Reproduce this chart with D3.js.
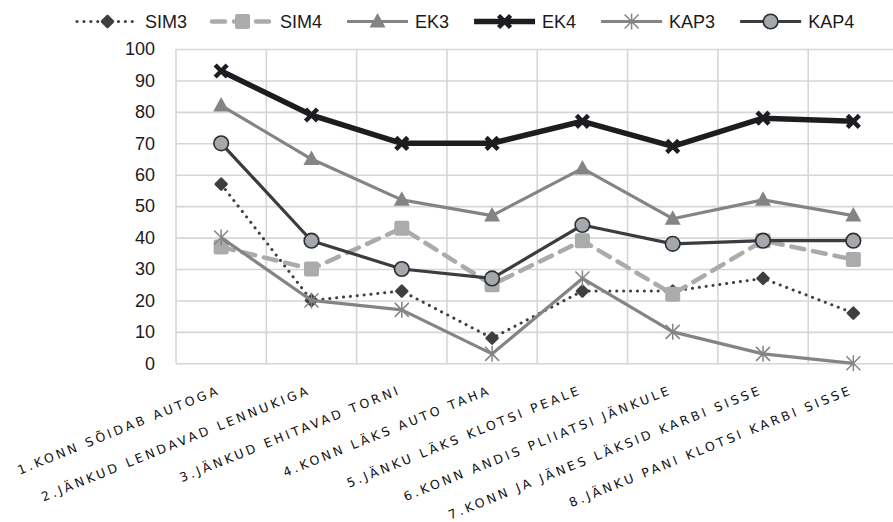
<!DOCTYPE html>
<html>
<head>
<meta charset="utf-8">
<script src="https://cdn.jsdelivr.net/npm/d3@7"></script>
<style>
  html, body { margin: 0; padding: 0; background: #fff; }
  svg { display: block; }
</style>
</head>
<body>
<svg id="chart" width="893" height="522"></svg>
<script>
// Story scenes (x categories)
const categories = [
  "1.KONN SÕIDAB AUTOGA",
  "2.JÄNKUD LENDAVAD LENNUKIGA",
  "3.JÄNKUD EHITAVAD TORNI",
  "4.KONN LÄKS AUTO TAHA",
  "5.JÄNKU LÄKS KLOTSI PEALE",
  "6.KONN ANDIS PLIIATSI JÄNKULE",
  "7.KONN JA JÄNES LÄKSID KARBI SISSE",
  "8.JÄNKU PANI KLOTSI KARBI SISSE"
];

// Series values
const SIM3 = [57, 20, 23, 8, 23, 23, 27, 16];
const SIM4 = [37, 30, 43, 25, 39, 22, 39, 33];
const EK3  = [82, 65, 52, 47, 62, 46, 52, 47];
const EK4  = [93, 79, 70, 70, 77, 69, 78, 77];
const KAP3 = [40, 20, 17, 3, 27, 10, 3, 0];
const KAP4 = [70, 39, 30, 27, 44, 38, 39, 39];

const seriesNames = ["SIM3", "SIM4", "EK3", "EK4", "KAP3", "KAP4"];
const seriesValues = [SIM3, SIM4, EK3, EK4, KAP3, KAP4];

const yTicks = [0, 10, 20, 30, 40, 50, 60, 70, 80, 90, 100];

// Visual style per series
const styles = {
  SIM3: { color: "#3f3f3f", width: 3.0, dash: "0.1 6.8", cap: "round", marker: "diamond" },
  SIM4: { color: "#ababab", width: 4.5, dash: "13 9",    cap: "round", marker: "square" },
  EK3:  { color: "#848484", width: 3.2, dash: null,      cap: "butt",  marker: "triangle" },
  EK4:  { color: "#1b1d21", width: 5.5, dash: null,      cap: "butt",  marker: "x" },
  KAP3: { color: "#848484", width: 3.2, dash: null,      cap: "butt",  marker: "asterisk" },
  KAP4: { color: "#393c40", width: 3.2, dash: null,      cap: "butt",  marker: "circle" }
};

const svg = d3.select("#chart");
const plot = { left: 176, right: 898.5, top: 49, bottom: 363.3 };

const x = d3.scaleBand().domain(categories).range([plot.left, plot.right]);
const y = d3.scaleLinear().domain([0, 100]).range([plot.bottom, plot.top]);
const cx = c => x(c) + x.bandwidth() / 2;

const gridColor = "#d6d6d6";

// Horizontal gridlines + y labels
const yAxis = d3.axisLeft(y).tickValues(yTicks).tickSize(-(plot.right - plot.left)).tickPadding(21);
const gy = svg.append("g").attr("transform", `translate(${plot.left},0)`).call(yAxis);
gy.select(".domain").remove();
gy.selectAll(".tick line").attr("stroke", gridColor).attr("stroke-width", 1.6);
gy.selectAll(".tick text")
  .attr("fill", "#1a1a1a")
  .style("font-family", "'Liberation Sans', Arial, sans-serif")
  .style("font-size", "18px");

// Vertical gridlines at category boundaries
const bounds = categories.map(c => x(c)).concat([plot.right]);
svg.append("g").selectAll("line").data(bounds).join("line")
  .attr("x1", d => d).attr("x2", d => d)
  .attr("y1", plot.top).attr("y2", plot.bottom)
  .attr("stroke", gridColor).attr("stroke-width", 1.6);

// Category labels, slanted
const xAxis = d3.axisBottom(x).tickSize(0).tickFormat(d => d);
const gx = svg.append("g").attr("transform", `translate(0,${plot.bottom})`).call(xAxis);
gx.select(".domain").remove();
gx.selectAll(".tick text")
  .attr("text-anchor", "end")
  .attr("y", 0).attr("dy", 0)
  .attr("transform", "translate(0,30) rotate(-22)")
  .attr("fill", "#111")
  .style("font-family", "'DejaVu Sans', Verdana, sans-serif")
  .style("font-size", "12.5px")
  .style("letter-spacing", "3px");

// Marker drawing
function drawMarker(g, type, st, px, py) {
  if (type === "diamond") {
    g.append("path").attr("transform", `translate(${px},${py})`)
      .attr("d", "M0,-5.5L5.5,0L0,5.5L-5.5,0Z")
      .attr("fill", st.color).attr("stroke", st.color).attr("stroke-width", 2.5)
      .attr("stroke-linejoin", "round");
  } else if (type === "square") {
    g.append("rect").attr("x", px - 7.5).attr("y", py - 7.5)
      .attr("width", 15).attr("height", 15).attr("rx", 2)
      .attr("fill", st.color);
  } else if (type === "triangle") {
    g.append("path").attr("transform", `translate(${px},${py})`)
      .attr("d", "M0,-8.5L8,6L-8,6Z").attr("fill", st.color);
  } else if (type === "x") {
    g.append("path").attr("transform", `translate(${px},${py})`)
      .attr("d", "M-6,-6L6,6M-6,6L6,-6")
      .attr("stroke", st.color).attr("stroke-width", 4.5).attr("fill", "none");
  } else if (type === "asterisk") {
    g.append("path").attr("transform", `translate(${px},${py})`)
      .attr("d", "M-7,-7L7,7M-7,7L7,-7M0,-8L0,8")
      .attr("stroke", st.color).attr("stroke-width", 1.5).attr("fill", "none");
  } else if (type === "circle") {
    g.append("circle").attr("cx", px).attr("cy", py).attr("r", 7.3)
      .attr("fill", "#a6a9ac").attr("stroke", "#2d2f33").attr("stroke-width", 1.6);
  }
}

// Series lines + markers
const line = d3.line().x((d, i) => cx(categories[i])).y(d => y(d));
seriesNames.forEach((name, si) => {
  const st = styles[name];
  const vals = seriesValues[si];
  const g = svg.append("g").attr("class", "series");
  g.append("path").datum(vals).attr("d", line)
    .attr("fill", "none").attr("stroke", st.color).attr("stroke-width", st.width)
    .attr("stroke-linecap", st.cap).attr("stroke-linejoin", "round")
    .attr("stroke-dasharray", st.dash);
  vals.forEach((v, i) => drawMarker(g, st.marker, st, cx(categories[i]), y(v)));
});

// Legend
const legend = svg.append("g");
let lx = 77;
const ly = 21.5;
seriesNames.forEach(name => {
  const st = styles[name];
  const g = legend.append("g");
  g.append("line").attr("x1", lx).attr("x2", lx + 61).attr("y1", ly).attr("y2", ly)
    .attr("stroke", st.color).attr("stroke-width", st.width)
    .attr("stroke-linecap", st.cap).attr("stroke-dasharray", st.dash);
  drawMarker(g, st.marker, st, lx + 30.5, ly);
  const t = g.append("text").attr("x", lx + 68).attr("y", ly).attr("dy", "0.35em")
    .attr("fill", "#1a1a1a")
    .style("font-family", "'Liberation Sans', Arial, sans-serif")
    .style("font-size", "18px")
    .text(name);
  lx += 68 + t.node().getComputedTextLength() + 25;
});
</script>
</body>
</html>
